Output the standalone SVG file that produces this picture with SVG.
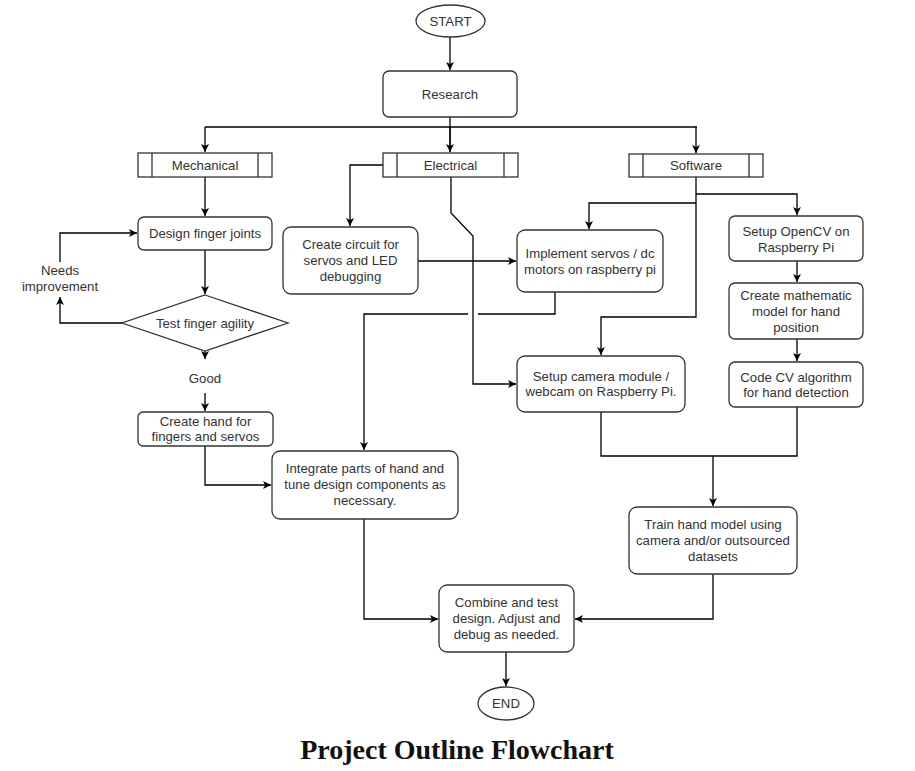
<svg xmlns="http://www.w3.org/2000/svg" width="915" height="771" viewBox="0 0 915 771">
<defs>
<marker id="ah" markerWidth="10" markerHeight="10" refX="9" refY="5" orient="auto" markerUnits="userSpaceOnUse"><path d="M1,1 L9,5 L1,9 L3,5 Z" fill="#000"/></marker>
<style>
.n{fill:#fff;stroke:#333;stroke-width:1.3}
.t{font-family:"Liberation Sans",Arial,sans-serif;font-size:13.2px;fill:#333;text-anchor:middle}
.c{fill:none;stroke:#000;stroke-width:1.3}
.ti{font-family:"Liberation Serif","Times New Roman",serif;font-size:28px;font-weight:bold;fill:#111;text-anchor:middle}
</style>
</defs>
<rect width="915" height="771" fill="#fff"/>
<g id="connectors">
<path class="c" d="M450,37 V70" marker-end="url(#ah)"/>
<path class="c" d="M450,117 V152"/>
<path class="c" d="M205,127 H697"/>
<path class="c" d="M205,127 V152" marker-end="url(#ah)"/>
<path class="c" d="M450,127 V152" marker-end="url(#ah)"/>
<path class="c" d="M696,127 V153" marker-end="url(#ah)"/>
<path class="c" d="M205,177 V216" marker-end="url(#ah)"/>
<path class="c" d="M383,165 H350 V226" marker-end="url(#ah)"/>
<path class="c" d="M451,177 V213 L473,236 V384 H516" marker-end="url(#ah)"/>
<path class="c" d="M418,261 H516" marker-end="url(#ah)"/>
<path class="c" d="M555,292 V314 H478"/>
<path class="c" d="M468,314 H364 V450" marker-end="url(#ah)"/>
<path class="c" d="M696,177 V317 H601 V355" marker-end="url(#ah)"/>
<path class="c" d="M696,203 H589 V229" marker-end="url(#ah)"/>
<path class="c" d="M696,194 H797 V215" marker-end="url(#ah)"/>
<path class="c" d="M797,261 V282" marker-end="url(#ah)"/>
<path class="c" d="M797,339 V361" marker-end="url(#ah)"/>
<path class="c" d="M601,412 V456 H797 V407"/>
<path class="c" d="M713,456 V506" marker-end="url(#ah)"/>
<path class="c" d="M713,574 V619 H575" marker-end="url(#ah)"/>
<path class="c" d="M205,250 V294" marker-end="url(#ah)"/>
<path class="c" d="M122,323 H60 V297" marker-end="url(#ah)"/>
<path class="c" d="M60,262 V233 H137" marker-end="url(#ah)"/>
<path class="c" d="M205,351 V359" marker-end="url(#ah)"/>
<path class="c" d="M205,393 V411" marker-end="url(#ah)"/>
<path class="c" d="M205,446 V485 H271" marker-end="url(#ah)"/>
<path class="c" d="M364,519 V619 H438" marker-end="url(#ah)"/>
<path class="c" d="M506,652 V686" marker-end="url(#ah)"/>
</g>
<g id="start"><ellipse class="n" cx="450.5" cy="21" rx="34.5" ry="16"/><text class="t" x="450.5" y="25.5">START</text></g>
<g id="research"><rect class="n" x="383" y="71" width="134" height="46" rx="6"/><text class="t" x="450" y="98.5">Research</text></g>
<g id="mechanical"><rect class="n" x="138" y="153" width="134" height="24"/><path class="n" d="M152,153 V177 M258,153 V177"/><text class="t" x="205" y="169.5">Mechanical</text></g>
<g id="electrical"><rect class="n" x="383" y="153" width="135" height="24"/><path class="n" d="M397,153 V177 M504,153 V177"/><text class="t" x="450.5" y="169.5">Electrical</text></g>
<g id="software"><rect class="n" x="629" y="154" width="134" height="23"/><path class="n" d="M643,154 V177 M749,154 V177"/><text class="t" x="696" y="170">Software</text></g>
<g id="design"><rect class="n" x="138" y="217" width="134" height="33" rx="6"/><text class="t" x="205" y="238">Design finger joints</text></g>
<g id="circuit"><rect class="n" x="283" y="227" width="135" height="67" rx="8"/><text class="t" x="350.5" y="249">Create circuit for</text><text class="t" x="350.5" y="265">servos and LED</text><text class="t" x="350.5" y="281">debugging</text></g>
<g id="implement"><rect class="n" x="517" y="230" width="146" height="62" rx="8"/><text class="t" x="590" y="258">Implement servos / dc</text><text class="t" x="590" y="274">motors on raspberry pi</text></g>
<g id="opencv"><rect class="n" x="729" y="216" width="134" height="45" rx="6"/><text class="t" x="796" y="236">Setup OpenCV on</text><text class="t" x="796" y="252">Raspberry Pi</text></g>
<g id="math"><rect class="n" x="729" y="283" width="134" height="56" rx="6"/><text class="t" x="796" y="300">Create mathematic</text><text class="t" x="796" y="316">model for hand</text><text class="t" x="796" y="332">position</text></g>
<g id="codecv"><rect class="n" x="729" y="362" width="134" height="45" rx="6"/><text class="t" x="796" y="382">Code CV algorithm</text><text class="t" x="796" y="397">for hand detection</text></g>
<g id="camera"><rect class="n" x="517" y="356" width="168" height="56" rx="8"/><text class="t" x="601" y="381">Setup camera module /</text><text class="t" x="601" y="396">webcam on Raspberry Pi.</text></g>
<g id="test"><polygon class="n" points="205,295 288,323 205,351 122,323"/><text class="t" x="205" y="327.5">Test finger agility</text></g>
<g id="lbl-needs"><text class="t" x="60" y="275">Needs</text><text class="t" x="60" y="291">improvement</text></g>
<g id="lbl-good"><text class="t" x="205" y="383">Good</text></g>
<g id="hand"><rect class="n" x="138" y="412" width="135" height="34" rx="5"/><text class="t" x="205.5" y="425.5">Create hand for</text><text class="t" x="205.5" y="441">fingers and servos</text></g>
<g id="integrate"><rect class="n" x="272" y="451" width="186" height="68" rx="8"/><text class="t" x="365" y="473">Integrate parts of hand and</text><text class="t" x="365" y="489">tune design components as</text><text class="t" x="365" y="505">necessary.</text></g>
<g id="train"><rect class="n" x="629" y="507" width="168" height="67" rx="8"/><text class="t" x="713" y="529">Train hand model using</text><text class="t" x="713" y="545">camera and/or outsourced</text><text class="t" x="713" y="561">datasets</text></g>
<g id="combine"><rect class="n" x="439" y="585" width="135" height="67" rx="8"/><text class="t" x="506.5" y="607">Combine and test</text><text class="t" x="506.5" y="623">design. Adjust and</text><text class="t" x="506.5" y="639">debug as needed.</text></g>
<g id="end"><ellipse class="n" cx="506" cy="703.5" rx="28" ry="16.5"/><text class="t" x="506" y="708">END</text></g>
<text class="ti" x="457" y="759">Project Outline Flowchart</text>
</svg>
